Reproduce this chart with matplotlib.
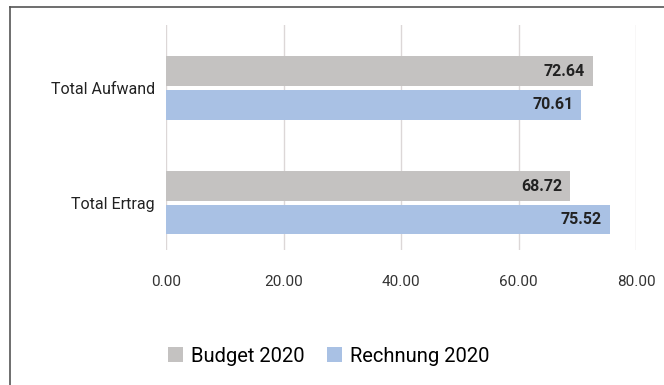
import matplotlib
matplotlib.use("Agg")
import matplotlib.pyplot as plt
from matplotlib.lines import Line2D
from matplotlib.patches import Patch
import numpy as np

categories = ["Total Aufwand", "Total Ertrag"]
series_names = ["Budget 2020", "Rechnung 2020"]
budget = [72.64, 68.72]
rechnung = [70.61, 75.52]
xticks = [0, 20, 40, 60, 80]

gray = "#c4c2c1"
blue = "#a9c1e4"
W, H = 664, 385
plt.rcParams['font.family'] = ['Roboto', 'DejaVu Sans']

fig = plt.figure(figsize=(W / 100, H / 100), dpi=100)
ax = fig.add_axes([166 / W, 1 - 250 / H, (636 - 166) / W, (250 - 25) / H])

y = np.arange(len(categories))
bh = 0.26
gap = 0.015
ax.barh(y - bh / 2 - gap, budget, height=bh, color=gray, zorder=2)
ax.barh(y + bh / 2 + gap, rechnung, height=bh, color=blue, zorder=2)

for yi, v in zip(y, budget):
    ax.text(v - 1.3, yi - bh / 2 - gap, f"{v:.2f}", ha="right", va="center",
            fontsize=11.5, fontweight="bold", color="#222222", zorder=3)
for yi, v in zip(y, rechnung):
    ax.text(v - 1.3, yi + bh / 2 + gap, f"{v:.2f}", ha="right", va="center",
            fontsize=11.5, fontweight="bold", color="#222222", zorder=3)

ax.set_xlim(0, 80)
ax.set_ylim(1 + 0.41, -0.548)
ax.set_yticks(y)
ax.set_yticklabels(categories, fontsize=11.5, color="#222222")
ax.set_xticks(xticks)
ax.set_xticklabels([f"{t:.2f}" for t in xticks], fontsize=11, color="#333333")
ax.tick_params(axis="both", length=0)
ax.tick_params(axis="y", pad=8)
ax.tick_params(axis="x", pad=18)
ax.grid(axis="x", color="#dcd7d7", linewidth=1, zorder=0)
for s in ax.spines.values():
    s.set_visible(False)

handles = [Patch(facecolor=gray, edgecolor="none"), Patch(facecolor=blue, edgecolor="none")]
fig.legend(handles, series_names, loc="center", bbox_to_anchor=(329 / W, 1 - 356 / H),
           ncol=2, frameon=False, fontsize=14.5, handlelength=0.75, handleheight=0.75,
           handletextpad=0.4, columnspacing=1.1)

fig.add_artist(Line2D([10 / W, 10 / W], [0, 1 - 7 / H], color="#555555", linewidth=1.2))
fig.add_artist(Line2D([10 / W, 1], [1 - 7 / H, 1 - 7 / H], color="#555555", linewidth=1.2))

fig.savefig("out.png", dpi=100)
